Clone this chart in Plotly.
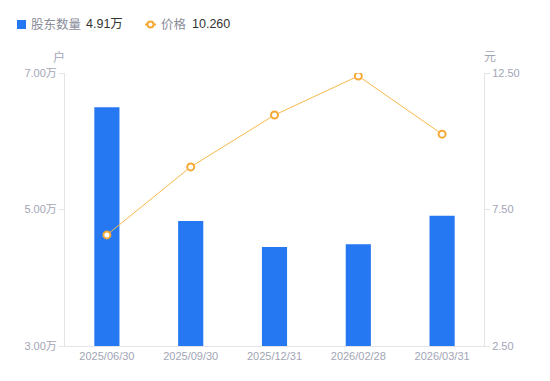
import plotly.graph_objects as go

dates = ["2025/06/30", "2025/09/30", "2025/12/31", "2026/02/28", "2026/03/31"]
holders = [65000, 48300, 44500, 44900, 49100]
prices = [6.57, 9.06, 10.96, 12.39, 10.26]

left_ticks = [30000, 50000, 70000]
left_ticktext = ["3.00万", "5.00万", "7.00万"]
right_ticks = [2.5, 7.5, 12.5]
right_ticktext = ["2.50", "7.50", "12.50"]

BLUE = "#2677f2"
ORANGE = "#f6a935"
LINE = "#f8b94c"
TICK = "#a2a5b5"
AXIS = "#e3e4e8"
FONT = "Liberation Sans, Noto Sans CJK SC, sans-serif"

fig = go.Figure()
fig.add_trace(go.Bar(x=dates, y=holders, marker=dict(color=BLUE, line=dict(width=0)),
                     width=0.3, name="股东数量", yaxis="y"))
fig.add_trace(go.Scatter(x=dates, y=prices, mode="lines+markers", name="价格", yaxis="y2",
                         line=dict(color=LINE, width=1),
                         marker=dict(size=7, color="white", line=dict(color=ORANGE, width=2))))

# page body has an 8px default margin
OFF = 8
W, H = 550 - OFF, 381 - OFF
ml, mr, mt, mb = 65 - OFF, 66, 73 - OFF, 35
pw = W - ml - mr
ph = H - mt - mb

def px(x):
    return (x - OFF - ml) / pw

def py(y):
    return 1 - (y - OFF - mt) / ph

fig.update_layout(
    width=W, height=H,
    margin=dict(l=ml, r=mr, t=mt, b=mb),
    plot_bgcolor="white", paper_bgcolor="white",
    showlegend=False,
    font=dict(family=FONT, size=11, color=TICK),
    xaxis=dict(showgrid=False, showline=True, linecolor=AXIS, linewidth=1,
               ticks="", tickfont=dict(size=11, color=TICK), zeroline=False),
    yaxis=dict(range=[30000, 70000], tickvals=left_ticks, ticktext=left_ticktext,
               showgrid=False, showline=True, linecolor=AXIS, linewidth=1,
               ticks="outside", ticklen=5, tickcolor=AXIS,
               tickfont=dict(size=11, color=TICK), zeroline=False),
    yaxis2=dict(range=[2.5, 12.5], tickvals=right_ticks, ticktext=right_ticktext,
                overlaying="y", side="right",
                showgrid=False, showline=True, linecolor=AXIS, linewidth=1,
                ticks="outside", ticklen=5, tickcolor=AXIS,
                tickfont=dict(size=11, color=TICK), zeroline=False),
)

def label(x, y, text, color, size=12.5, xanchor="left"):
    fig.add_annotation(x=px(x), y=py(y), xref="paper", yref="paper",
                       xanchor=xanchor, yanchor="middle", text=text, showarrow=False,
                       font=dict(size=size, color=color), borderpad=0)

# axis unit titles
label(59, 57, "户", TICK, size=12, xanchor="center")
label(490, 57, "元", TICK, size=12, xanchor="center")

# custom legend
fig.add_shape(type="rect", xref="paper", yref="paper",
              x0=px(17), x1=px(26), y0=py(20), y1=py(29),
              fillcolor=BLUE, line=dict(width=0))
label(30, 24.5, "股东数量", "#8a8c99")
label(85, 24.5, "4.91万", "#333333")
fig.add_shape(type="line", xref="paper", yref="paper",
              x0=px(145), x1=px(156), y0=py(24.5), y1=py(24.5),
              line=dict(color=ORANGE, width=2))
fig.add_shape(type="circle", xref="paper", yref="paper",
              x0=px(147.5), x1=px(153.5), y0=py(21.5), y1=py(27.5),
              fillcolor="white", line=dict(color=ORANGE, width=2))
label(160, 24.5, "价格", "#8a8c99")
label(191, 24.5, "10.260", "#333333")

fig.write_html("out.html")
